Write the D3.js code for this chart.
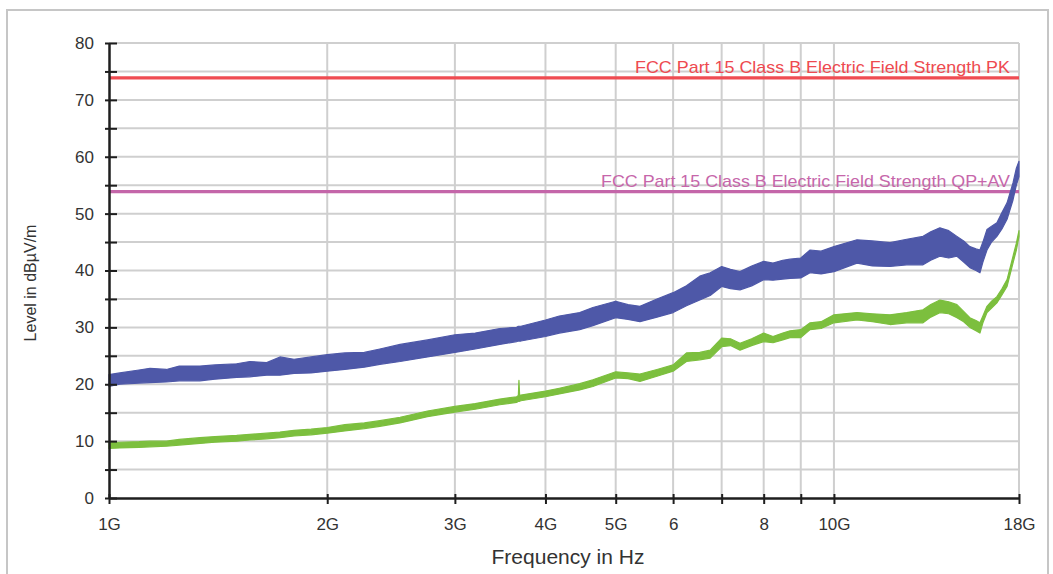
<!DOCTYPE html>
<html>
<head>
<meta charset="utf-8">
<script src="https://cdn.jsdelivr.net/npm/d3@7"></script>
<style>
  html, body { margin: 0; padding: 0; background: #fff; }
  svg { display: block; font-family: "Liberation Sans", Arial, sans-serif; }
</style>
</head>
<body>
<svg id="chart" width="1053" height="574"></svg>
<script>
// ---------------- data ----------------
// Frequency in GHz
const freqGHz = [1.00, 1.035, 1.10, 1.139, 1.20, 1.25, 1.335, 1.40, 1.50, 1.564, 1.65, 1.721, 1.80, 1.90,
  2.00, 2.115, 2.25, 2.364, 2.521, 2.75, 3.00, 3.20, 3.46, 3.65, 3.670, 3.677, 3.685, 3.70, 4.00, 4.18, 4.46, 4.65,
  5.00, 5.20, 5.40, 5.70, 6.00, 6.26, 6.53, 6.75, 7.00, 7.20, 7.42, 7.70, 8.00, 8.24, 8.50, 8.70, 9.00, 9.27, 9.60,
  10.0, 10.76, 11.3, 11.95, 12.6, 13.27, 13.6, 14.0, 14.4, 14.78, 15.1, 15.4, 15.7, 15.9, 16.05, 16.26, 16.5,
  16.78, 17.05, 17.33, 17.66, 17.85, 18.0];

// Peak trace (blue): lower / upper edge of the noisy band, dBµV/m
const peakLo = [19.6, 20.0, 20.2, 20.3, 20.4, 20.6, 20.6, 20.9, 21.2, 21.3, 21.6, 21.6, 21.9, 22.0,
  22.3, 22.6, 23.0, 23.5, 24.0, 24.8, 25.6, 26.2, 27.0, 27.5, 27.6, 27.6, 27.6, 27.6, 28.4, 29.0, 29.6, 30.3,
  31.7, 31.4, 31.0, 31.8, 32.6, 33.8, 34.8, 35.6, 37.2, 36.8, 36.6, 37.3, 38.4, 38.3, 38.5, 38.6, 38.7, 39.6, 39.4,
  39.8, 41.3, 40.8, 40.7, 41.0, 41.0, 41.8, 42.5, 42.2, 42.5, 41.5, 40.5, 40.0, 39.6, 41.5, 43.6, 45.0,
  46.0, 47.3, 49.0, 52.4, 55.0, 56.5];
const peakHi = [21.7, 22.0, 22.5, 22.8, 22.6, 23.2, 23.2, 23.4, 23.6, 24.0, 23.8, 24.8, 24.4, 24.8,
  25.2, 25.5, 25.6, 26.2, 27.0, 27.8, 28.7, 29.0, 29.8, 30.0, 30.2, 30.2, 30.2, 30.2, 31.3, 32.0, 32.6, 33.5,
  34.6, 34.0, 33.7, 35.0, 36.1, 37.3, 39.0, 39.6, 40.7, 40.2, 39.8, 40.8, 41.6, 41.3, 41.8, 42.0, 42.2, 43.6, 43.4,
  44.2, 45.4, 45.2, 44.9, 45.5, 46.0, 46.8, 47.5, 47.0, 46.0, 45.2, 44.2, 43.8, 43.6, 45.0, 47.2, 47.8,
  48.4, 50.2, 51.9, 55.4, 58.0, 59.2];

// Average trace (green): lower / upper edge, dBµV/m
const avgLo = [8.7, 8.8, 8.9, 9.0, 9.1, 9.3, 9.6, 9.8, 10.0, 10.2, 10.4, 10.6, 10.9, 11.1,
  11.4, 11.8, 12.2, 12.6, 13.2, 14.3, 15.1, 15.6, 16.4, 16.8, 17.0, 17.0, 17.0, 17.1, 17.8, 18.3, 19.0, 19.6,
  21.1, 21.0, 20.5, 21.4, 22.3, 24.0, 24.3, 24.6, 26.6, 26.8, 26.0, 26.8, 27.5, 27.3, 27.8, 28.2, 28.2, 29.6, 29.8,
  30.8, 31.3, 31.0, 30.5, 30.8, 30.8, 31.8, 32.6, 32.4, 31.7, 31.0, 30.0, 29.4, 29.0, 30.8, 32.6, 33.4,
  34.3, 35.7, 37.2, 41.3, 43.6, 46.0];
const avgHi = [9.7, 9.8, 9.9, 10.0, 10.0, 10.3, 10.6, 10.8, 11.0, 11.2, 11.4, 11.6, 11.9, 12.1,
  12.4, 12.9, 13.2, 13.6, 14.2, 15.3, 16.1, 16.6, 17.4, 17.8, 18.0, 20.7, 18.0, 18.1, 18.8, 19.3, 20.1, 20.8,
  22.2, 22.0, 21.8, 22.6, 23.4, 25.5, 25.6, 26.0, 28.1, 28.0, 27.2, 28.0, 29.0, 28.4, 29.0, 29.4, 29.6, 30.8, 31.0,
  32.2, 32.6, 32.4, 32.2, 32.6, 33.1, 34.0, 34.8, 34.5, 34.0, 32.8, 31.7, 31.2, 30.8, 32.0, 33.7, 34.6,
  35.4, 36.8, 38.4, 42.5, 44.8, 47.0];

// Limit lines
const limitNames = ["FCC Part 15 Class B Electric Field Strength PK",
                    "FCC Part 15 Class B Electric Field Strength QP+AV"];
const limitValues = [74, 54];

// Axis ticks
const xTickValues = [1, 2, 3, 4, 5, 6, 7, 8, 9, 10, 18];
const xTickLabels = ["1G", "2G", "3G", "4G", "5G", "6", "", "8", "", "10G", "18G"];
const yTickValues = [0, 5, 10, 15, 20, 25, 30, 35, 40, 45, 50, 55, 60, 65, 70, 75, 80];
const yTickLabels = ["0", "", "10", "", "20", "", "30", "", "40", "", "50", "", "60", "", "70", "", "80"];

const xTitle = "Frequency in Hz";
const yTitle = "Level in dBµV/m";

// ---------------- drawing ----------------
const svg = d3.select("#chart");
const L = 109, R = 1019, T = 43, B = 498;

const x = d3.scaleLog().domain([1, 18]).range([L, R]);
const y = d3.scaleLinear().domain([0, 80]).range([B, T]);

const colors = {
  grid: "#cfcfcf", axis: "#1e1e1e", text: "#333333",
  peak: "#4e58a8", avg: "#7cbf3e",
  limit: ["#ef4c52", "#c466a9"], limitText: ["#ee4a50", "#c666aa"]
};

// outer frame
svg.append("rect").attr("x", 7).attr("y", 10).attr("width", 1041).attr("height", 580)
  .attr("fill", "none").attr("stroke", "#c6c6c6").attr("stroke-width", 2);

// grid
const g = svg.append("g");
g.selectAll(".hg").data(yTickValues.filter(v => v > 0)).join("line")
  .attr("x1", L).attr("x2", R).attr("y1", d => y(d)).attr("y2", d => y(d))
  .attr("stroke", colors.grid).attr("stroke-width", 2);
g.selectAll(".vg").data(xTickValues.filter(v => v > 1)).join("line")
  .attr("y1", T).attr("y2", B).attr("x1", d => x(d)).attr("x2", d => x(d))
  .attr("stroke", colors.grid).attr("stroke-width", 2);

// limit lines
limitValues.forEach((v, i) => {
  svg.append("line").attr("x1", L).attr("x2", R).attr("y1", y(v) + 0.8).attr("y2", y(v) + 0.8)
    .attr("stroke", colors.limit[i]).attr("stroke-width", 3.2);
});
const labelWidths = [375, 409];
limitValues.forEach((v, i) => {
  svg.append("text").attr("x", 1010).attr("y", y(v) - 4)
    .attr("text-anchor", "end").attr("font-size", 17)
    .attr("textLength", labelWidths[i]).attr("lengthAdjust", "spacingAndGlyphs")
    .attr("fill", colors.limitText[i]).text(limitNames[i]);
});

// traces as bands (lower/upper envelope of the measured noise)
const idx = d3.range(freqGHz.length);
function band(lo, hi, color) {
  const area = d3.area().x(i => x(freqGHz[i])).y0(i => y(lo[i])).y1(i => y(hi[i]));
  svg.append("path").attr("d", area(idx)).attr("fill", color)
    .attr("stroke", color).attr("stroke-width", 1.2).attr("stroke-linejoin", "round");
}
band(peakLo, peakHi, colors.peak);
band(avgLo, avgHi, colors.avg);

// axes
const yAxis = d3.axisLeft(y).tickValues(yTickValues)
  .tickFormat((d, i) => yTickLabels[i]).tickSizeOuter(0).tickPadding(9);
const ya = svg.append("g").attr("transform", `translate(${L},0)`).call(yAxis);
ya.select(".domain").attr("stroke", colors.axis).attr("stroke-width", 2.5);
ya.selectAll(".tick line").attr("x1", -4).attr("x2", 8)
  .attr("stroke", colors.axis).attr("stroke-width", 2);
ya.selectAll(".tick text").attr("font-size", 17).attr("fill", colors.text)
  .attr("font-family", "Liberation Sans, Arial, sans-serif");

const xAxis = d3.axisBottom(x).tickValues(xTickValues)
  .tickFormat((d, i) => xTickLabels[i]).tickSizeOuter(0).tickPadding(14);
const xa = svg.append("g").attr("transform", `translate(0,${B})`).call(xAxis);
xa.select(".domain").attr("stroke", colors.axis).attr("stroke-width", 2.5);
xa.selectAll(".tick line").attr("y1", -4).attr("y2", 6)
  .attr("stroke", colors.axis).attr("stroke-width", 2);
xa.selectAll(".tick text").attr("font-size", 17).attr("fill", colors.text)
  .attr("font-family", "Liberation Sans, Arial, sans-serif");

// titles
svg.append("text").attr("x", 568).attr("y", 564).attr("text-anchor", "middle")
  .attr("font-size", 21).attr("fill", colors.text).text(xTitle);
svg.append("text").attr("transform", "translate(36,283) rotate(-90)")
  .attr("text-anchor", "middle").attr("font-size", 16).attr("fill", colors.text).text(yTitle);
</script>
</body>
</html>
